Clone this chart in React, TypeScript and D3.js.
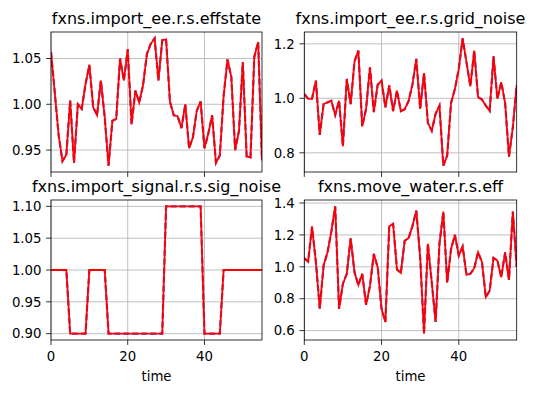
import React from "react";
import * as d3 from "d3";

const time = [
  0, 1, 2, 3, 4, 5, 6, 7, 8, 9, 10, 11, 12, 13, 14, 15, 16, 17, 18, 19,
  20, 21, 22, 23, 24, 25, 26, 27, 28, 29, 30, 31, 32, 33, 34, 35, 36, 37, 38, 39,
  40, 41, 42, 43, 44, 45, 46, 47, 48, 49, 50, 51, 52, 53, 54, 55,
];

const effstate = [
  1.057, 1.012, 0.966, 0.938, 0.945, 1.004, 0.936, 1.0, 0.995, 1.022,
  1.043, 0.997, 0.988, 1.026, 0.986, 0.933, 0.982, 0.984, 1.05, 1.026,
  1.06, 0.978, 1.015, 1.002, 1.021, 1.055, 1.066, 1.072, 1.026, 1.07,
  1.071, 1.003, 0.988, 0.987, 0.974, 1.0, 0.952, 0.964, 0.993, 1.003,
  0.952, 0.968, 0.988, 0.936, 0.944, 1.009, 1.049, 1.03, 0.95, 0.971,
  1.046, 0.943, 0.942, 1.052, 1.068, 0.939,
];

const gridNoise = [
  1.016, 0.998, 0.999, 1.065, 0.866, 0.979, 0.985, 0.991, 0.939, 0.991,
  0.824, 1.071, 0.979, 1.135, 1.175, 0.897, 0.961, 1.114, 0.949, 1.05,
  1.065, 0.967, 1.047, 0.953, 1.028, 0.953, 0.96, 0.99, 1.05, 1.145,
  0.961, 1.093, 0.91, 0.881, 0.943, 0.973, 0.753, 0.79, 0.983, 1.034,
  1.108, 1.22, 1.132, 1.044, 1.175, 1.004, 0.996, 0.973, 0.954, 1.154,
  0.998, 1.059, 0.983, 0.786, 0.894, 1.049,
];

const sigNoise = [
  1.0, 1.0, 1.0, 1.0, 1.0, 0.9, 0.9, 0.9, 0.9, 0.9,
  1.0, 1.0, 1.0, 1.0, 1.0, 0.9, 0.9, 0.9, 0.9, 0.9,
  0.9, 0.9, 0.9, 0.9, 0.9, 0.9, 0.9, 0.9, 0.9, 0.9,
  1.1, 1.1, 1.1, 1.1, 1.1, 1.1, 1.1, 1.1, 1.1, 1.1,
  0.9, 0.9, 0.9, 0.9, 0.9, 1.0, 1.0, 1.0, 1.0, 1.0,
  1.0, 1.0, 1.0, 1.0, 1.0, 1.0,
];

const moveWaterEff = [
  1.054, 1.033, 1.252, 1.03, 0.737, 1.008, 1.09, 1.22, 1.379, 0.737,
  0.894, 0.956, 1.179, 0.966, 0.885, 0.956, 0.762, 0.88, 1.081, 0.998,
  0.737, 0.654, 1.254, 1.269, 0.983, 0.962, 1.164, 1.18, 1.254, 1.352,
  1.06, 0.581, 1.144, 0.904, 0.654, 1.144, 1.346, 0.9, 1.112, 1.2,
  1.07, 1.127, 0.95, 0.956, 0.991, 1.091, 1.03, 0.81, 0.85, 1.056,
  1.04, 0.935, 1.09, 0.918, 1.346, 1.0,
];

const titles = [
  "fxns.import_ee.r.s.effstate",
  "fxns.import_ee.r.s.grid_noise",
  "fxns.import_signal.r.s.sig_noise",
  "fxns.move_water.r.s.eff",
];
const xTicks = [0, 20, 40];
const effstateTicks = [0.95, 1.0, 1.05];
const gridNoiseTicks = [0.8, 1.0, 1.2];
const sigNoiseTicks = [0.9, 0.95, 1.0, 1.05, 1.1];
const moveWaterTicks = [0.6, 0.8, 1.0, 1.2, 1.4];
const xLabel = "time";

const W = 539;
const H = 393;
const FONT = "DejaVu Sans, sans-serif";

type PanelProps = {
  title: string;
  values: number[];
  yTicks: number[];
  fmt: string;
  left: number;
  right: number;
  top: number;
  bottom: number;
  showX: boolean;
};

const Panel = ({ title, values, yTicks, fmt, left, right, top, bottom, showX }: PanelProps) => {
  const x = d3.scaleLinear().domain([0, 55]).range([left, right]);
  const [lo, hi] = d3.extent(values) as [number, number];
  const pad = (hi - lo) * 0.05;
  const y = d3.scaleLinear().domain([lo - pad, hi + pad]).range([bottom, top]);
  const line = d3
    .line<number>()
    .x((_, i) => x(time[i]))
    .y((d) => y(d));
  const f = d3.format(fmt);
  const path = line(values) || "";
  return (
    <g>
      <text x={(left + right) / 2} y={top - 8.5} textAnchor="middle" fontSize={16} fontFamily={FONT}>
        {title}
      </text>
      {xTicks.map((t) => (
        <line key={"gx" + t} x1={x(t)} x2={x(t)} y1={top} y2={bottom} stroke="#b0b0b0" strokeWidth={0.8} />
      ))}
      {yTicks.map((t) => (
        <line key={"gy" + t} x1={left} x2={right} y1={y(t)} y2={y(t)} stroke="#b0b0b0" strokeWidth={0.8} />
      ))}
      <clipPath id={"clip" + left + top}>
        <rect x={left} y={top} width={right - left} height={bottom - top} />
      </clipPath>
      <g clipPath={`url(#clip${left}${top})`}>
        <path d={path} fill="none" stroke="#6a3aa8" strokeWidth={2.2} strokeDasharray="6,3" />
        <path d={path} fill="none" stroke="#ff0000" strokeWidth={1.8} />
      </g>
      <rect x={left} y={top} width={right - left} height={bottom - top} fill="none" stroke="#000" strokeWidth={0.8} />
      {xTicks.map((t) => (
        <g key={"xt" + t}>
          <line x1={x(t)} x2={x(t)} y1={bottom} y2={bottom + 4.9} stroke="#000" strokeWidth={0.8} />
          {showX && (
            <text x={x(t)} y={bottom + 20.5} textAnchor="middle" fontSize={13.3} fontFamily={FONT}>
              {t}
            </text>
          )}
        </g>
      ))}
      {yTicks.map((t) => (
        <g key={"yt" + t}>
          <line x1={left - 4.9} x2={left} y1={y(t)} y2={y(t)} stroke="#000" strokeWidth={0.8} />
          <text x={left - 9.5} y={y(t)} dy="0.36em" textAnchor="end" fontSize={13.3} fontFamily={FONT}>
            {f(t)}
          </text>
        </g>
      ))}
      {showX && (
        <text x={(left + right) / 2} y={bottom + 40.5} textAnchor="middle" fontSize={13.3} fontFamily={FONT}>
          {xLabel}
        </text>
      )}
    </g>
  );
};

export default function App() {
  return (
    <svg width={W} height={H} style={{ position: "absolute", left: 0, top: 0, background: "#fff" }}>
      <rect width={W} height={H} fill="#fff" />
      <Panel title={titles[0]} values={effstate} yTicks={effstateTicks} fmt=".2f" left={51} right={262} top={32} bottom={172} showX={false} />
      <Panel title={titles[1]} values={gridNoise} yTicks={gridNoiseTicks} fmt=".1f" left={304.3} right={516.7} top={32} bottom={172} showX={false} />
      <Panel title={titles[2]} values={sigNoise} yTicks={sigNoiseTicks} fmt=".2f" left={51} right={262} top={200} bottom={340} showX={true} />
      <Panel title={titles[3]} values={moveWaterEff} yTicks={moveWaterTicks} fmt=".1f" left={304.3} right={516.7} top={200} bottom={340} showX={true} />
    </svg>
  );
}
